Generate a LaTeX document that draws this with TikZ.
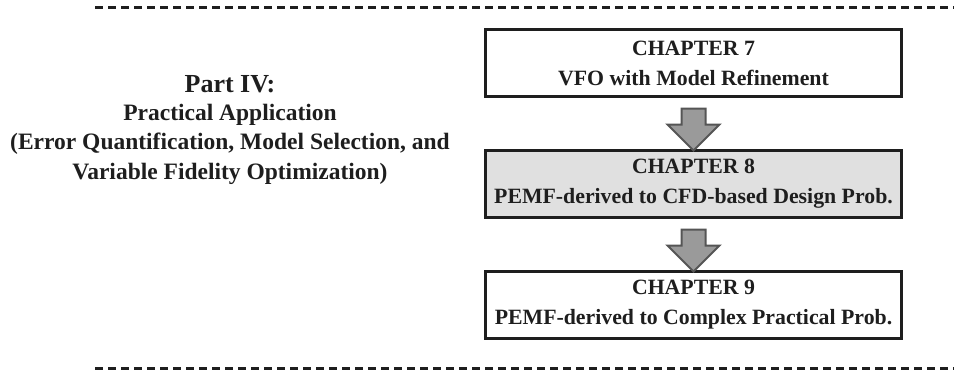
\documentclass[tikz,border=0pt]{standalone}
\usepackage{fontspec}
\setmainfont{Liberation Serif}
\usetikzlibrary{positioning,shapes.arrows}

\definecolor{boxline}{HTML}{1E1E1E}
\definecolor{boxfill}{HTML}{E0E0E0}
\definecolor{arrowfill}{HTML}{9A9A9A}
\definecolor{arrowline}{HTML}{555555}

\begin{document}
\begin{tikzpicture}[x=1pt, y=1pt,
        node distance=51pt,
        chapbox/.style={draw=boxline, line width=3pt, minimum width=416pt,
          minimum height=67pt, align=center, inner sep=0pt, text=boxline,
          font=\bfseries\fontsize{21.8}{30}\selectfont},
        downarrow/.style={single arrow, draw=arrowline, fill=arrowfill,
          line width=2pt, rotate=-90, minimum height=42pt, inner xsep=0pt,
          inner ysep=11pt, single arrow head extend=14pt},
        sepline/.style={draw=boxline, line width=3pt, dash pattern=on 8pt off 5pt},
        parttext/.style={align=center, inner sep=0pt, text=boxline,
          font=\bfseries\fontsize{23.5}{29.5}\selectfont}
      ]
        \useasboundingbox (0,0) rectangle (954,-376);
        % dashed separators
        \draw[sepline] (95,-7.5) -- (954,-7.5);
        \draw[sepline] (95,-368) -- (954,-368);
        % chapter boxes
        \node[chapbox] (ch7) at (693.5,-63) {CHAPTER 7\\VFO with Model Refinement};
        \node[chapbox, below=of ch7, fill=boxfill] (ch8) {CHAPTER 8\\PEMF-derived to CFD-based Design Prob.};
        \node[chapbox, below=of ch8] (ch9) {CHAPTER 9\\PEMF-derived to Complex Practical Prob.};
        \path (ch7) -- node[downarrow] (a78) {} (ch8);
        \path (ch8) -- node[downarrow] (a89) {} (ch9);
        % part description
        \node[font=\bfseries\fontsize{26}{30}\selectfont, text=boxline, inner sep=0pt,
          anchor=base] (part) at (230,-92) {Part IV:};
        \node[parttext, below=11pt of part] (desc) {Practical Application\\(Error Quantification, Model Selection, and\\Variable Fidelity Optimization)};
      \end{tikzpicture}
\end{document}
